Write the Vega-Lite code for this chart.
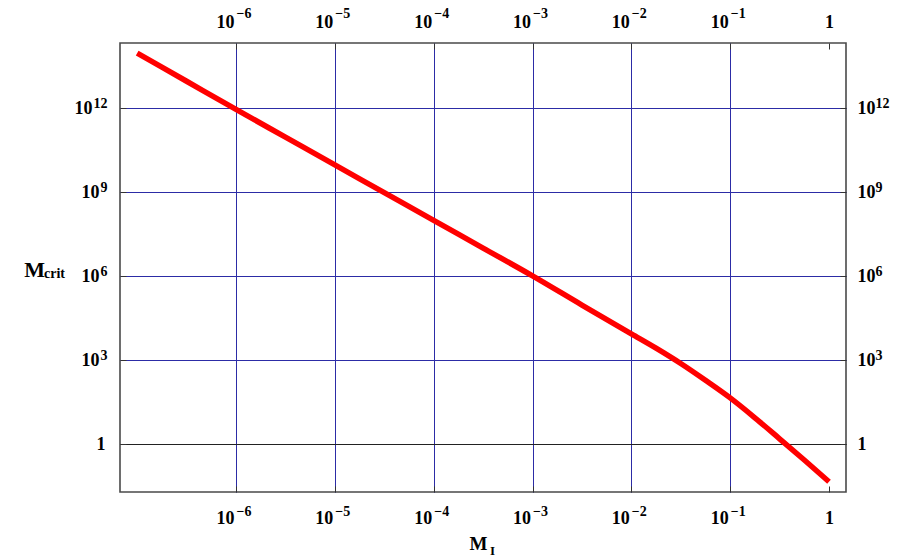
{
  "$schema": "https://vega.github.io/schema/vega-lite/v6.json",
  "width": 726,
  "height": 449,
  "autosize": {"type": "none"},
  "padding": {"left": 120, "top": 43, "right": 54, "bottom": 64},
  "background": "white",
  "config": {
    "view": {"stroke": "#4a4a4a", "strokeWidth": 1.6},
    "font": "Liberation Serif",
    "axis": {
      "domain": false,
      "grid": false,
      "labelFont": "Liberation Serif",
      "labelFontWeight": "bold",
      "labelColor": "black",
      "titleFont": "Liberation Serif",
      "titleFontWeight": "bold",
      "titleColor": "black",
      "tickColor": "#333333",
      "labelOverlap": false,
      "labelFlush": false,
      "labelBound": false,
      "labelLimit": 0
    }
  },
  "data": {
    "values": [
      {"mi": 1e-7, "mcrit": 8.9e13},
      {"mi": 3.162e-7, "mcrit": 8.8e12},
      {"mi": 1e-6, "mcrit": 8.7e11},
      {"mi": 3.162e-6, "mcrit": 8.9e10},
      {"mi": 1e-5, "mcrit": 9.1e9},
      {"mi": 3.162e-5, "mcrit": 9.3e8},
      {"mi": 1e-4, "mcrit": 9.5e7},
      {"mi": 3.162e-4, "mcrit": 9.8e6},
      {"mi": 1e-3, "mcrit": 1e6},
      {"mi": 3.162e-3, "mcrit": 9.1e4},
      {"mi": 0.01, "mcrit": 8500},
      {"mi": 0.01778, "mcrit": 2620},
      {"mi": 0.03162, "mcrit": 743},
      {"mi": 0.05623, "mcrit": 187},
      {"mi": 0.1, "mcrit": 44},
      {"mi": 0.1778, "mcrit": 8.6},
      {"mi": 0.3162, "mcrit": 1.53},
      {"mi": 0.5623, "mcrit": 0.268},
      {"mi": 1, "mcrit": 0.045}
    ]
  },
  "resolve": {"axis": {"x": "independent", "y": "independent"}},
  "layer": [
    {
      "description": "Top and right frame: base '10' labels, inward ticks, subscript parts of the titles",
      "mark": {"type": "line", "strokeOpacity": 0},
      "encoding": {
        "x": {
          "field": "mi", "type": "quantitative",
          "scale": {"type": "log", "domain": [6.7e-8, 1.486], "nice": false, "zero": false},
          "axis": {
            "orient": "top", "tickSize": -6,
            "values": [1e-6, 1e-5, 1e-4, 1e-3, 1e-2, 1e-1, 1],
            "labelExpr": "datum.value > 0.5 ? '1' : '10'",
            "labelFontSize": 18, "labelBaseline": "alphabetic",
            "labelAlign": {"condition": {"test": "datum.value > 0.5", "value": "center"}, "value": "right"},
            "labelOffset": {"condition": {"test": "datum.value > 0.5", "value": 0}, "value": -2},
            "labelPadding": 22,
            "title": "I", "titleFontSize": 13, "titleAlign": "center", "titleBaseline": "alphabetic",
            "titleX": 372, "titleY": 511
          }
        },
        "y": {
          "field": "mcrit", "type": "quantitative",
          "scale": {"type": "log", "domain": [0.0193, 2.04e14], "nice": false, "zero": false},
          "axis": {
            "orient": "right", "tickSize": -6,
            "values": [1, 1e3, 1e6, 1e9, 1e12],
            "labelExpr": "datum.value < 10 ? '1' : '10'",
            "labelFontSize": 18, "labelBaseline": "alphabetic", "labelAlign": "left",
            "labelOffset": 6, "labelPadding": 17,
            "title": "crit", "titleFontSize": 14, "titleAngle": 0, "titleAlign": "center", "titleBaseline": "alphabetic",
            "titleX": -792, "titleY": 234
          }
        }
      }
    },
    {
      "description": "Top and right frame: exponents",
      "mark": {"type": "line", "strokeOpacity": 0},
      "encoding": {
        "x": {
          "field": "mi", "type": "quantitative",
          "scale": {"type": "log", "domain": [6.7e-8, 1.486], "nice": false, "zero": false},
          "axis": {
            "orient": "top", "ticks": false, "tickSize": 0, "title": null,
            "values": [1e-6, 1e-5, 1e-4, 1e-3, 1e-2, 1e-1, 1],
            "labelExpr": "datum.value > 0.5 ? '' : '−' + round(-log(datum.value)/LN10)",
            "labelFontSize": 14, "labelBaseline": "alphabetic", "labelAlign": "left",
            "labelOffset": 0, "labelPadding": 26
          }
        },
        "y": {
          "field": "mcrit", "type": "quantitative",
          "scale": {"type": "log", "domain": [0.0193, 2.04e14], "nice": false, "zero": false},
          "axis": {
            "orient": "right", "ticks": false, "tickSize": 0, "title": null,
            "values": [1, 1e3, 1e6, 1e9, 1e12],
            "labelExpr": "datum.value < 10 ? '' : '' + round(log(datum.value)/LN10)",
            "labelFontSize": 14, "labelBaseline": "alphabetic", "labelAlign": "left",
            "labelOffset": 0, "labelPadding": 29
          }
        }
      }
    },
    {
      "description": "Bottom and left frame: exponents",
      "mark": {"type": "line", "strokeOpacity": 0},
      "encoding": {
        "x": {
          "field": "mi", "type": "quantitative",
          "scale": {"type": "log", "domain": [6.7e-8, 1.486], "nice": false, "zero": false},
          "axis": {
            "orient": "bottom", "ticks": false, "tickSize": 0, "title": null,
            "values": [1e-6, 1e-5, 1e-4, 1e-3, 1e-2, 1e-1, 1],
            "labelExpr": "datum.value > 0.5 ? '' : '−' + round(-log(datum.value)/LN10)",
            "labelFontSize": 14, "labelBaseline": "alphabetic", "labelAlign": "left",
            "labelOffset": 0, "labelPadding": 23
          }
        },
        "y": {
          "field": "mcrit", "type": "quantitative",
          "scale": {"type": "log", "domain": [0.0193, 2.04e14], "nice": false, "zero": false},
          "axis": {
            "orient": "left", "ticks": false, "tickSize": 0, "title": null,
            "values": [1, 1e3, 1e6, 1e9, 1e12],
            "labelExpr": "datum.value < 10 ? '' : '' + round(log(datum.value)/LN10)",
            "labelFontSize": 14, "labelBaseline": "alphabetic", "labelAlign": "right",
            "labelOffset": 0, "labelPadding": 13
          }
        }
      }
    },
    {
      "description": "The curve, with bottom and left frame labels and the grid",
      "mark": {"type": "line", "color": "#ff0000", "strokeWidth": 5.5, "interpolate": "monotone", "strokeCap": "butt"},
      "encoding": {
        "x": {
          "field": "mi", "type": "quantitative",
          "scale": {"type": "log", "domain": [6.7e-8, 1.486], "nice": false, "zero": false},
          "axis": {
            "orient": "bottom", "tickSize": -6,
            "values": [1e-6, 1e-5, 1e-4, 1e-3, 1e-2, 1e-1, 1],
            "labelExpr": "datum.value > 0.5 ? '1' : '10'",
            "labelFontSize": 18, "labelBaseline": "alphabetic",
            "labelAlign": {"condition": {"test": "datum.value > 0.5", "value": "center"}, "value": "right"},
            "labelOffset": {"condition": {"test": "datum.value > 0.5", "value": 0}, "value": -2},
            "labelPadding": 37,
            "grid": true, "gridColor": "#2c2ca6", "gridWidth": 1,
            "gridOpacity": {"condition": {"test": "datum.value > 0.5", "value": 0}, "value": 1},
            "title": "M", "titleFontSize": 19, "titleAlign": "center", "titleBaseline": "alphabetic",
            "titleX": 358, "titleY": 57
          }
        },
        "y": {
          "field": "mcrit", "type": "quantitative",
          "scale": {"type": "log", "domain": [0.0193, 2.04e14], "nice": false, "zero": false},
          "axis": {
            "orient": "left", "tickSize": -6,
            "values": [1, 1e3, 1e6, 1e9, 1e12],
            "labelExpr": "datum.value < 10 ? '1' : '10'",
            "labelFontSize": 18, "labelBaseline": "alphabetic", "labelAlign": "right",
            "labelOffset": 6,
            "labelPadding": {"condition": [
              {"test": "datum.value < 10", "value": 21},
              {"test": "datum.value > 1e11", "value": 34}
            ], "value": 27},
            "grid": true, "gridWidth": 1,
            "gridColor": {"condition": {"test": "datum.value < 10", "value": "#222222"}, "value": "#2c2ca6"},
            "title": "M", "titleFontSize": 22, "titleAngle": 0, "titleAlign": "center", "titleBaseline": "alphabetic",
            "titleX": -86, "titleY": 233
          }
        }
      }
    }
  ]
}
